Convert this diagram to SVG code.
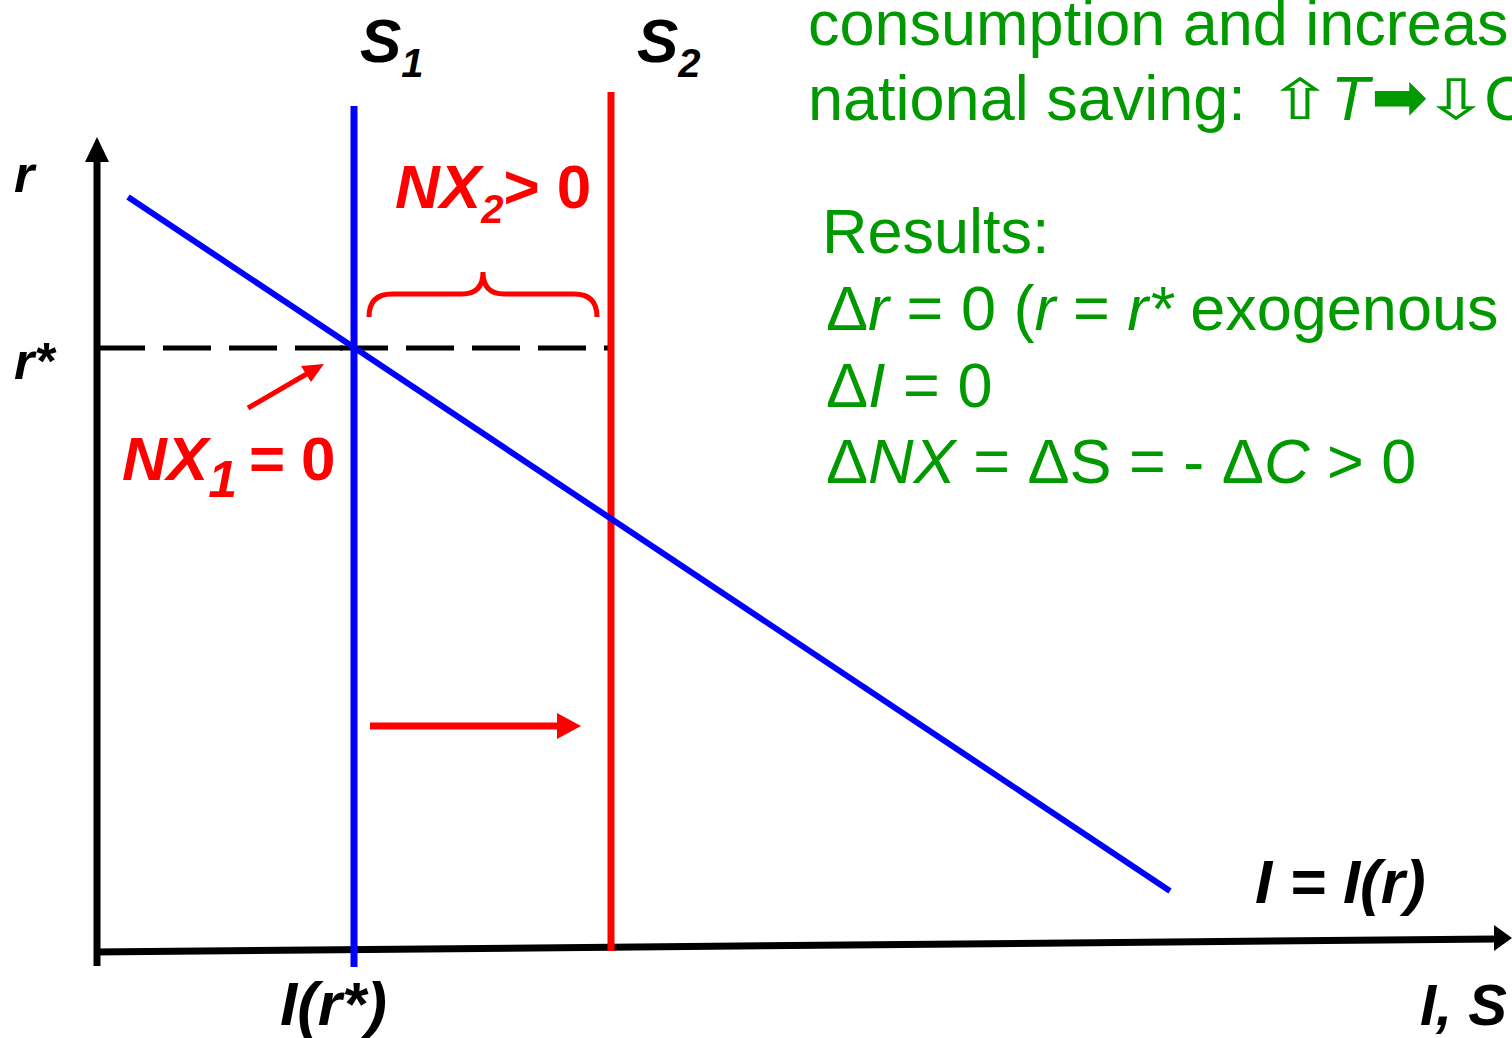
<svg xmlns="http://www.w3.org/2000/svg" width="1512" height="1038" viewBox="0 0 1512 1038">
<style>
.lbl{font-family:"Liberation Sans",Arial,sans-serif;font-weight:bold;font-style:italic;fill:#000}
.red{fill:#ff0000}
.up{font-style:normal}
.grn{font-family:"Liberation Sans",Arial,sans-serif;font-size:63px;fill:#009900}
.it{font-style:italic}
.sym{font-family:"DejaVu Sans",sans-serif;fill:#009900}
</style>
<rect width="1512" height="1038" fill="#fff"/>
<g id="connectors">
  <g id="axes" stroke="#000" stroke-width="7" fill="none">
    <line x1="97" y1="966" x2="97" y2="158"/>
    <line x1="94" y1="952" x2="1496" y2="939"/>
  </g>
  <polygon points="97,137 85,162 109,162" fill="#000"/>
  <polygon points="1512,938 1494,925 1494,951" fill="#000"/>
  <g id="rstar-dash" stroke="#000" stroke-width="5" stroke-dasharray="48 18">
    <line x1="97" y1="348" x2="343" y2="348"/>
    <line x1="340" y1="348" x2="612" y2="348"/>
  </g>
  <line id="S1-curve" x1="354" y1="106" x2="354" y2="967" stroke="#0000ff" stroke-width="7"/>
  <line id="S2-curve" x1="611" y1="92" x2="611" y2="951" stroke="#ff0000" stroke-width="7"/>
  <line id="I-curve" x1="128" y1="197" x2="1170" y2="891" stroke="#0000ff" stroke-width="6"/>
  <path id="brace" d="M369,317 Q369,294 392,294 L462,294 Q483,294 483,272 Q483,294 504,294 L574,294 Q597,294 597,317" fill="none" stroke="#ff0000" stroke-width="5"/>
  <g id="shift-arrow">
    <line x1="370" y1="726" x2="560" y2="726" stroke="#ff0000" stroke-width="7"/>
    <polygon points="581,726 557,713 557,739" fill="#ff0000"/>
  </g>
  <g id="nx1-arrow">
    <line x1="248" y1="408" x2="310" y2="372" stroke="#ff0000" stroke-width="5"/>
    <polygon points="324,364 301,366 311,382" fill="#ff0000"/>
  </g>
</g>
<g id="label-r"><text class="lbl" x="14" y="192" font-size="52">r</text></g>
<g id="label-rstar"><text class="lbl" x="14" y="379" font-size="52">r*</text></g>
<g id="label-S1"><text class="lbl" x="360" y="62" font-size="62">S<tspan font-size="40" dy="15">1</tspan></text></g>
<g id="label-S2"><text class="lbl" x="637" y="62" font-size="62">S<tspan font-size="40" dy="15">2</tspan></text></g>
<g id="label-NX2"><text class="lbl red" x="395" y="208" font-size="62">NX<tspan font-size="40" dy="15">2</tspan><tspan class="up" dy="-15">&gt; 0</tspan></text></g>
<g id="label-NX1"><text class="lbl red" x="122" y="480" font-size="62">NX<tspan font-size="52" dy="17">1</tspan><tspan class="up" x="249" dy="-17">=</tspan><tspan class="up" x="301">0</tspan></text></g>
<g id="label-Ir"><text class="lbl" x="1255" y="903" font-size="62">I = I(r)</text></g>
<g id="label-Irstar"><text class="lbl" x="280" y="1025" font-size="62">I(r*)</text></g>
<g id="label-IS"><text class="lbl" x="1420" y="1025" font-size="58">I, S</text></g>
<g id="text-panel">
  <text class="grn" x="808" y="45">consumption and increas</text>
  <text class="grn" x="808" y="120">national saving:<tspan class="it" x="1331">T</tspan><tspan x="1484">C</tspan></text>
  <text class="sym" font-size="56" transform="translate(1266,119) scale(1.45,1)">⇧</text>
  <text class="sym" font-size="68" transform="translate(1371,120) scale(1.0,1)">➡</text>
  <text class="sym" font-size="56" transform="translate(1422,119) scale(1.45,1)">⇩</text>
  <text class="grn" x="822" y="253">Results:</text>
  <text class="grn" x="826" y="330">Δ<tspan class="it">r</tspan> = 0 (<tspan class="it">r</tspan> = <tspan class="it">r*</tspan> exogenous</text>
  <text class="grn" x="826" y="407">Δ<tspan class="it">I</tspan> = 0</text>
  <text class="grn" x="826" y="483">Δ<tspan class="it">NX</tspan> = ΔS = - Δ<tspan class="it">C</tspan> &gt; 0</text>
</g>
</svg>
